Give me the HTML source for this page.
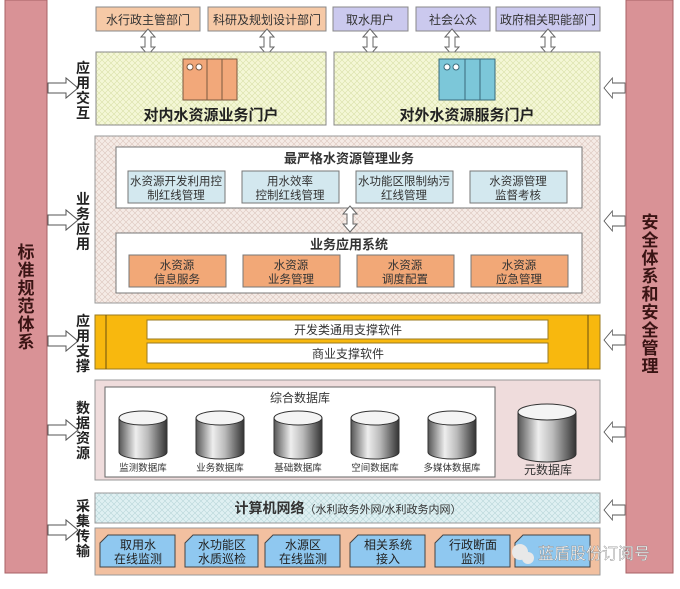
<!DOCTYPE html>
<html><head><meta charset="utf-8"><style>
html,body{margin:0;padding:0;background:#fff;}
svg text{font-family:"Liberation Sans","Noto Sans CJK SC",sans-serif;}
</style></head><body>
<svg width="680" height="584" viewBox="0 0 680 584" xmlns="http://www.w3.org/2000/svg">
<defs>
<pattern id="hy" width="6" height="6" patternUnits="userSpaceOnUse"><rect width="6" height="6" fill="#f4f7d6"/><path d="M0 0L6 6M6 0L0 6" stroke="#d9e0a8" stroke-width="0.6"/></pattern>
<pattern id="hp" width="6" height="6" patternUnits="userSpaceOnUse"><rect width="6" height="6" fill="#f5ebe6"/><path d="M0 0L6 6M6 0L0 6" stroke="#dcc6bd" stroke-width="0.6"/></pattern>
<pattern id="hb" width="6" height="6" patternUnits="userSpaceOnUse"><rect width="6" height="6" fill="#dff0f2"/><path d="M0 0L6 6M6 0L0 6" stroke="#b9d6da" stroke-width="0.6"/></pattern>
<linearGradient id="cyl" x1="0" x2="1"><stop offset="0" stop-color="#555"/><stop offset="0.35" stop-color="#eee"/><stop offset="0.6" stop-color="#bbb"/><stop offset="1" stop-color="#333"/></linearGradient>
<g id="ha"><path d="M0 -5 H18 V-10 L30 0 L18 10 V5 H0 Z" fill="#fff" stroke="#555" stroke-width="1"/></g>
<g id="va"><path d="M-3 4 L-7 4 L0 -4 L7 4 L3 4 L3 14 L7 14 L0 22 L-7 14 L-3 14 Z" fill="#fff" stroke="#666" stroke-width="1"/></g>
</defs>

<!-- side bars -->
<rect x="5" y="0" width="42" height="573" fill="#d99296" stroke="#a86266"/>
<rect x="626" y="0" width="47" height="573" fill="#d99296" stroke="#a86266"/>
<text font-size="17" font-weight="bold" fill="#3a1414" text-anchor="middle">
<tspan x="26" y="258">标</tspan><tspan x="26" y="276">准</tspan><tspan x="26" y="294">规</tspan><tspan x="26" y="312">范</tspan><tspan x="26" y="330">体</tspan><tspan x="26" y="348">系</tspan></text>
<text font-size="17" font-weight="bold" fill="#3a1414" text-anchor="middle">
<tspan x="650" y="228">安</tspan><tspan x="650" y="246">全</tspan><tspan x="650" y="264">体</tspan><tspan x="650" y="282">系</tspan><tspan x="650" y="300">和</tspan><tspan x="650" y="318">安</tspan><tspan x="650" y="336">全</tspan><tspan x="650" y="354">管</tspan><tspan x="650" y="372">理</tspan></text>

<!-- left arrows -->
<use href="#ha" transform="translate(48,88)"/>
<use href="#ha" transform="translate(48,220)"/>
<use href="#ha" transform="translate(48,341)"/>
<use href="#ha" transform="translate(48,430)"/>
<use href="#ha" transform="translate(48,530)"/>
<!-- right arrows -->
<use href="#ha" transform="translate(625,88) scale(-0.7,1)"/>
<use href="#ha" transform="translate(625,221) scale(-0.7,1)"/>
<use href="#ha" transform="translate(625,340) scale(-0.7,1)"/>
<use href="#ha" transform="translate(625,432) scale(-0.7,1)"/>
<use href="#ha" transform="translate(625,510) scale(-0.7,1)"/>

<!-- layer labels -->
<g font-size="14" font-weight="bold" fill="#222" text-anchor="middle">
<text><tspan x="83" y="73">应</tspan><tspan x="83" y="88">用</tspan><tspan x="83" y="103">交</tspan><tspan x="83" y="118">互</tspan></text>
<text><tspan x="83" y="204">业</tspan><tspan x="83" y="219">务</tspan><tspan x="83" y="234">应</tspan><tspan x="83" y="249">用</tspan></text>
<text><tspan x="83" y="326">应</tspan><tspan x="83" y="341">用</tspan><tspan x="83" y="356">支</tspan><tspan x="83" y="371">撑</tspan></text>
<text><tspan x="83" y="413">数</tspan><tspan x="83" y="428">据</tspan><tspan x="83" y="443">资</tspan><tspan x="83" y="458">源</tspan></text>
<text><tspan x="83" y="511">采</tspan><tspan x="83" y="526">集</tspan><tspan x="83" y="541">传</tspan><tspan x="83" y="556">输</tspan></text>
</g>

<!-- top boxes -->
<g font-size="12" fill="#333" text-anchor="middle">
<rect x="96" y="7" width="104" height="24" fill="#f6c9a6" stroke="#888"/><text x="148" y="24">水行政主管部门</text>
<rect x="208" y="7" width="118" height="24" fill="#f6c9a6" stroke="#888"/><text x="267" y="24">科研及规划设计部门</text>
<rect x="333" y="7" width="75" height="24" fill="#cbc9ee" stroke="#888"/><text x="370" y="24">取水用户</text>
<rect x="416" y="7" width="74" height="24" fill="#cbc9ee" stroke="#888"/><text x="453" y="24">社会公众</text>
<rect x="496" y="7" width="104" height="24" fill="#cbc9ee" stroke="#888"/><text x="548" y="24">政府相关职能部门</text>
</g>
<use href="#va" transform="translate(148,33)"/>
<use href="#va" transform="translate(267,33)"/>
<use href="#va" transform="translate(370,33)"/>
<use href="#va" transform="translate(452,33)"/>
<use href="#va" transform="translate(548,33)"/>

<!-- portals -->
<rect x="96" y="52" width="230" height="73" fill="url(#hy)" stroke="#888"/>
<rect x="334" y="52" width="266" height="73" fill="url(#hy)" stroke="#888"/>
<g stroke="#7a5a40" stroke-width="1">
<rect x="183" y="59" width="24" height="41" fill="#f2a87a"/><rect x="207" y="59" width="30" height="41" fill="#f2a87a"/>
<line x1="222" y1="59" x2="222" y2="100"/><circle cx="190" cy="67" r="3" fill="#fff"/><circle cx="199" cy="67" r="3" fill="#fff"/>
</g>
<g stroke="#3a6a7a" stroke-width="1">
<rect x="439" y="59" width="26" height="41" fill="#7cc7d9"/><rect x="465" y="59" width="30" height="41" fill="#7cc7d9"/>
<line x1="480" y1="59" x2="480" y2="100"/><circle cx="447" cy="67" r="3" fill="#fff"/><circle cx="456" cy="67" r="3" fill="#fff"/>
</g>
<text x="211" y="120" font-size="15" font-weight="bold" fill="#222" text-anchor="middle">对内水资源业务门户</text>
<text x="467" y="120" font-size="15" font-weight="bold" fill="#222" text-anchor="middle">对外水资源服务门户</text>

<!-- business -->
<rect x="95" y="136" width="505" height="167" fill="url(#hp)" stroke="#999"/>
<rect x="116" y="147" width="466" height="61" fill="#fff" stroke="#777"/>
<text x="349" y="163" font-size="13" font-weight="bold" fill="#333" text-anchor="middle">最严格水资源管理业务</text>
<g font-size="11.5" fill="#333" text-anchor="middle">
<rect x="128" y="171" width="97" height="32" fill="#d3e8ef" stroke="#777"/><text x="176" y="185">水资源开发利用控</text><text x="176" y="199">制红线管理</text>
<rect x="242" y="171" width="97" height="32" fill="#d3e8ef" stroke="#777"/><text x="290" y="185">用水效率</text><text x="290" y="199">控制红线管理</text>
<rect x="356" y="171" width="97" height="32" fill="#d3e8ef" stroke="#777"/><text x="404" y="185">水功能区限制纳污</text><text x="404" y="199">红线管理</text>
<rect x="470" y="171" width="97" height="32" fill="#d3e8ef" stroke="#777"/><text x="518" y="185">水资源管理</text><text x="518" y="199">监督考核</text>
</g>
<use href="#va" transform="translate(350,210)"/>
<rect x="116" y="233" width="466" height="60" fill="#fff" stroke="#777"/>
<text x="349" y="249" font-size="13" font-weight="bold" fill="#333" text-anchor="middle">业务应用系统</text>
<g font-size="11.5" fill="#333" text-anchor="middle">
<rect x="129" y="255" width="97" height="32" fill="#f2a877" stroke="#777"/><text x="177" y="269">水资源</text><text x="177" y="283">信息服务</text>
<rect x="243" y="255" width="97" height="32" fill="#f2a877" stroke="#777"/><text x="291" y="269">水资源</text><text x="291" y="283">业务管理</text>
<rect x="357" y="255" width="97" height="32" fill="#f2a877" stroke="#777"/><text x="405" y="269">水资源</text><text x="405" y="283">调度配置</text>
<rect x="471" y="255" width="97" height="32" fill="#f2a877" stroke="#777"/><text x="519" y="269">水资源</text><text x="519" y="283">应急管理</text>
</g>

<!-- support -->
<rect x="95" y="315" width="505" height="54" fill="#f8b80e" stroke="#9a7a20"/>
<line x1="106" y1="315" x2="106" y2="369" stroke="#6a5010"/><line x1="588" y1="315" x2="588" y2="369" stroke="#6a5010"/>
<rect x="147" y="320" width="401" height="19" fill="#fff" stroke="#9a7a20"/>
<rect x="147" y="343" width="401" height="20" fill="#fff" stroke="#9a7a20"/>
<g font-size="12" fill="#333" text-anchor="middle"><text x="348" y="334">开发类通用支撑软件</text><text x="348" y="358">商业支撑软件</text></g>

<!-- data -->
<rect x="95" y="380" width="505" height="100" fill="#efdcdc" stroke="#999"/>
<rect x="105" y="387" width="390" height="90" fill="#fff" stroke="#666"/>
<text x="300" y="402" font-size="12" fill="#333" text-anchor="middle">综合数据库</text>
<g stroke="#333" stroke-width="1">
<g transform="translate(143,0)"><path d="M-24 418 V452 A24 7 0 0 0 24 452 V418" fill="url(#cyl)"/><ellipse cx="0" cy="418" rx="24" ry="7" fill="#f4f4f4"/></g>
<g transform="translate(220,0)"><path d="M-24 418 V452 A24 7 0 0 0 24 452 V418" fill="url(#cyl)"/><ellipse cx="0" cy="418" rx="24" ry="7" fill="#f4f4f4"/></g>
<g transform="translate(298,0)"><path d="M-24 418 V452 A24 7 0 0 0 24 452 V418" fill="url(#cyl)"/><ellipse cx="0" cy="418" rx="24" ry="7" fill="#f4f4f4"/></g>
<g transform="translate(375,0)"><path d="M-24 418 V452 A24 7 0 0 0 24 452 V418" fill="url(#cyl)"/><ellipse cx="0" cy="418" rx="24" ry="7" fill="#f4f4f4"/></g>
<g transform="translate(452,0)"><path d="M-24 418 V452 A24 7 0 0 0 24 452 V418" fill="url(#cyl)"/><ellipse cx="0" cy="418" rx="24" ry="7" fill="#f4f4f4"/></g>
<g transform="translate(547,0)"><path d="M-29 412 V454 A29 8 0 0 0 29 454 V412" fill="url(#cyl)"/><ellipse cx="0" cy="412" rx="29" ry="8" fill="#f4f4f4"/></g>
</g>
<g font-size="9.5" fill="#333" text-anchor="middle">
<text x="143" y="471">监测数据库</text><text x="220" y="471">业务数据库</text><text x="298" y="471">基础数据库</text><text x="375" y="471">空间数据库</text><text x="452" y="471">多媒体数据库</text></g>
<text x="548" y="474" font-size="12" fill="#333" text-anchor="middle">元数据库</text>

<!-- network -->
<rect x="95" y="493" width="505" height="30" fill="url(#hb)" stroke="#999"/>
<text x="348" y="513" font-size="14" fill="#333" text-anchor="middle"><tspan font-weight="bold">计算机网络</tspan><tspan font-size="11">（水利政务外网/水利政务内网）</tspan></text>

<!-- acquisition -->
<rect x="95" y="528" width="505" height="47" fill="#f2c0a0" stroke="#999"/>
<g font-size="12" fill="#222" text-anchor="middle" stroke="#444" stroke-width="1">
<path d="M108 535 H175 V567 H100 V543 Z" fill="#8fc8f0"/>
<path d="M193 535 H258 V567 H185 V543 Z" fill="#8fc8f0"/>
<path d="M273 535 H340 V567 H265 V543 Z" fill="#8fc8f0"/>
<path d="M358 535 H425 V567 H350 V543 Z" fill="#8fc8f0"/>
<path d="M443 535 H510 V567 H435 V543 Z" fill="#8fc8f0"/>
<path d="M523 535 H590 V567 H515 V543 Z" fill="#8fc8f0"/>
</g>
<g font-size="12" fill="#222" text-anchor="middle">
<text x="138" y="549">取用水</text><text x="138" y="563">在线监测</text>
<text x="222" y="549">水功能区</text><text x="222" y="563">水质巡检</text>
<text x="303" y="549">水源区</text><text x="303" y="563">在线监测</text>
<text x="388" y="549">相关系统</text><text x="388" y="563">接入</text>
<text x="473" y="549">行政断面</text><text x="473" y="563">监测</text>
</g>
<circle cx="520" cy="552" r="8" fill="#e8e8e8"/><circle cx="528" cy="558" r="6" fill="#e8e8e8"/>
<text x="538" y="559" font-size="16" fill="#fff" stroke="#888" stroke-width="0.4">蓝盾股份订阅号</text>
</svg>
</body></html>
